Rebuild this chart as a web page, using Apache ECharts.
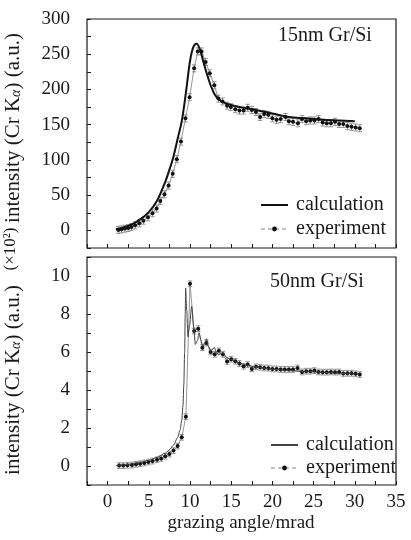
<!DOCTYPE html>
<html>
<head>
<meta charset="utf-8">
<script src="https://cdn.jsdelivr.net/npm/echarts@6/dist/echarts.min.js"></script>
<style>
html,body{margin:0;padding:0;background:#fff;}
#c{width:411px;height:540px;}
</style>
</head>
<body>
<div id="c"></div>
<script>
// ---------- data ----------
var xTicks = [0, 5, 10, 15, 20, 25, 30, 35];
var yTicksTop = [0, 50, 100, 150, 200, 250, 300];
var yTicksBottom = [0, 2, 4, 6, 8, 10];

// 15nm Gr/Si : calculation
var calcTopX = [1.0, 2.0, 3.0, 4.0, 5.0, 6.0, 7.0, 7.5, 8.0, 8.5, 9.0, 9.5, 10.0, 10.4, 10.8, 11.2, 11.6, 12.0, 12.5, 13.0, 13.5, 14.0, 15.0, 16.0, 18.0, 20.0, 22.0, 24.0, 26.0, 28.0, 30.0];
var calcTopY = [1.5, 4.5, 9, 16, 26, 42, 69, 86, 105, 130, 155, 195, 240, 260, 265, 257, 240, 224, 206, 193, 186, 182, 178, 175, 171, 166, 161, 159, 157, 156, 155];

// 15nm Gr/Si : experiment
var expTopX = [1.3, 1.7, 2.1, 2.5, 2.9, 3.35, 3.85, 4.35, 4.9, 5.45, 5.95, 6.4, 6.9, 7.4, 7.9, 8.4, 8.9, 9.45, 9.95, 10.5, 10.95, 11.4, 11.9, 12.4, 12.95, 13.45, 13.95, 14.5, 14.95, 15.5, 16.0, 16.5, 17.0, 17.5, 18.0, 18.5, 19.0, 19.5, 20.0, 20.5, 21.0, 21.6, 22.0, 22.5, 23.1, 23.6, 24.1, 24.6, 25.1, 25.6, 26.1, 26.6, 27.1, 27.6, 28.1, 28.6, 29.1, 29.6, 30.1, 30.6];
var expTopY = [0.6, 1.5, 2.5, 3.4, 4.8, 7.2, 10, 13.8, 18.6, 24.3, 31, 41.8, 51.3, 63.6, 80.2, 101, 126, 159, 189, 230, 254, 254, 239, 223, 206, 187, 183, 177, 175, 172, 170, 170, 174, 171, 168, 161, 165, 164, 159, 157, 158, 161, 155, 154, 152, 158, 155, 156, 156, 158, 153, 152, 152, 154, 151, 151, 148, 147, 146, 145];
var errTop = 5;

// 50nm Gr/Si : calculation (x10^2)
var calcBotX = [1.0, 2.0, 3.0, 4.0, 5.0, 6.0, 7.0, 7.5, 8.0, 8.5, 8.8, 9.0, 9.15, 9.25, 9.35, 9.42, 9.47, 9.6, 9.75, 9.95, 10.2, 10.45, 10.65, 10.9, 11.1, 11.35, 11.55, 11.8, 12.0, 12.25, 12.5, 12.75, 12.95, 13.2, 13.45, 13.7, 13.95, 14.5, 15.0, 16.0, 17.0, 18.0, 20.0, 22.0, 24.0, 26.0, 28.0, 30.0];
var calcBotY = [0.02, 0.06, 0.12, 0.2, 0.3, 0.45, 0.68, 0.85, 1.1, 1.5, 1.9, 2.4, 3.2, 4.3, 6.0, 8.0, 9.36, 8.2, 6.8, 7.4, 8.4, 7.3, 6.4, 6.6, 7.0, 6.6, 6.3, 6.5, 6.7, 6.3, 6.05, 6.15, 6.25, 6.0, 5.85, 5.9, 5.95, 5.7, 5.6, 5.4, 5.3, 5.2, 5.1, 5.02, 4.97, 4.93, 4.88, 4.84];

// 50nm Gr/Si : experiment (x10^2)
var expBotX = [1.4, 1.9, 2.4, 2.95, 3.45, 3.95, 4.45, 4.95, 5.45, 6.0, 6.5, 7.0, 7.5, 8.0, 8.5, 9.0, 9.5, 10.0, 10.5, 11.0, 11.5, 12.0, 12.5, 13.0, 13.5, 14.0, 14.5, 15.0, 15.5, 16.0, 16.5, 17.0, 17.5, 18.0, 18.5, 19.0, 19.5, 20.0, 20.5, 21.0, 21.5, 22.0, 22.5, 23.05, 23.6, 24.1, 24.6, 25.1, 25.6, 26.1, 26.6, 27.1, 27.6, 28.1, 28.6, 29.1, 29.6, 30.1, 30.6];
var expBotY = [0.02, 0.02, 0.04, 0.05, 0.09, 0.12, 0.16, 0.21, 0.26, 0.33, 0.40, 0.51, 0.63, 0.81, 1.05, 1.51, 2.59, 9.59, 7.1, 7.23, 6.23, 6.48, 6.0, 5.88, 6.06, 5.88, 5.5, 5.62, 5.51, 5.39, 5.25, 5.34, 5.11, 5.22, 5.2, 5.16, 5.15, 5.11, 5.11, 5.08, 5.08, 5.08, 5.08, 5.16, 4.95, 4.99, 4.99, 5.02, 4.95, 4.94, 4.94, 4.95, 4.94, 4.95, 4.87, 4.88, 4.88, 4.85, 4.81];
var errBot = 0.15;

// ---------- helpers ----------
function zip(a, b) { var r = []; for (var i = 0; i < a.length; i++) r.push([a[i], b[i]]); return r; }
function zipErr(a, b, e) { var r = []; for (var i = 0; i < a.length; i++) r.push([a[i], b[i], e]); return r; }

var FONT = 'Liberation Serif';
var INK = '#1a1a1a';

function errRender(params, api) {
  var x = api.value(0), y = api.value(1), e = api.value(2);
  var lo = api.coord([x, y - e]), hi = api.coord([x, y + e]);
  var w = 2.2;
  var st = { stroke: '#8a8a8a', lineWidth: 0.9 };
  return {
    type: 'group',
    children: [
      { type: 'line', shape: { x1: lo[0], y1: lo[1], x2: hi[0], y2: hi[1] }, style: st },
      { type: 'line', shape: { x1: lo[0] - w, y1: lo[1], x2: lo[0] + w, y2: lo[1] }, style: st },
      { type: 'line', shape: { x1: hi[0] - w, y1: hi[1], x2: hi[0] + w, y2: hi[1] }, style: st }
    ]
  };
}

function xAxisCfg(idx, showLabels) {
  return {
    type: 'value', gridIndex: idx, min: -2.5, max: 35, interval: 2.5, position: 'bottom',
    axisLine: { show: false, onZero: false },
    axisTick: { show: true, inside: true, length: 4, lineStyle: { color: INK, width: 1 } },
    splitLine: { show: false },
    axisLabel: {
      show: showLabels, margin: 8, color: INK, fontFamily: FONT, fontSize: 19,
      formatter: function (v) { return xTicks.indexOf(v) >= 0 ? String(v) : ''; }
    }
  };
}
function yAxisCfg(idx, min, max, interval, ticks) {
  return {
    type: 'value', gridIndex: idx, min: min, max: max, interval: interval, position: 'left',
    axisLine: { show: false, onZero: false },
    axisTick: { show: true, inside: true, length: 4, lineStyle: { color: INK, width: 1 } },
    splitLine: { show: false },
    axisLabel: {
      margin: 17, color: INK, fontFamily: FONT, fontSize: 19,
      formatter: function (v) { return ticks.indexOf(v) >= 0 ? String(v) : ''; }
    }
  };
}

var legendText = { calc15: 'calculation', exp15: 'experiment', calc50: 'calculation', exp50: 'experiment' };

var titleRich = {
  n: { fontFamily: FONT, fontSize: 21, fill: INK, lineHeight: 25, verticalAlign: 'bottom' },
  s: { fontFamily: FONT, fontSize: 14, fontStyle: 'italic', fill: INK, lineHeight: 14, verticalAlign: 'bottom' }
};

var chart = echarts.init(document.getElementById('c'), null, { renderer: 'canvas' });
chart.setOption({
  animation: false,
  backgroundColor: '#fff',
  grid: [
    { left: 87, top: 19, width: 309, height: 229, show: true, borderColor: INK, borderWidth: 1.2, backgroundColor: 'transparent' },
    { left: 87, top: 257, width: 309, height: 228, show: true, borderColor: INK, borderWidth: 1.2, backgroundColor: 'transparent' }
  ],
  xAxis: [xAxisCfg(0, false), xAxisCfg(1, true)],
  yAxis: [yAxisCfg(0, -25, 300, 25, yTicksTop), yAxisCfg(1, -1, 11, 1, yTicksBottom)],
  legend: [
    {
      left: 255, top: 190, orient: 'vertical', itemWidth: 27, itemHeight: 6, itemGap: 4,
      data: [
        { name: 'calc15', itemStyle: { opacity: 0 } },
        { name: 'exp15', lineStyle: { type: [4, 3], color: '#888', width: 1 } }
      ],
      formatter: function (n) { return legendText[n]; },
      textStyle: { fontFamily: FONT, fontSize: 20, color: INK, padding: [0, 0, 0, 3] },
      selectedMode: false
    },
    {
      left: 265, top: 430, orient: 'vertical', itemWidth: 27, itemHeight: 6, itemGap: 3,
      data: [
        { name: 'calc50', itemStyle: { opacity: 0 } },
        { name: 'exp50', lineStyle: { type: [4, 3], color: '#888', width: 1 } }
      ],
      formatter: function (n) { return legendText[n]; },
      textStyle: { fontFamily: FONT, fontSize: 20, color: INK, padding: [0, 0, 0, 3] },
      selectedMode: false
    }
  ],
  series: [
    {
      name: 'err15', type: 'custom', xAxisIndex: 0, yAxisIndex: 0, z: 1,
      renderItem: errRender, encode: { x: 0, y: 1 }, data: zipErr(expTopX, expTopY, errTop)
    },
    {
      name: 'exp15', type: 'line', xAxisIndex: 0, yAxisIndex: 0, z: 2,
      data: zip(expTopX, expTopY), symbol: 'circle', symbolSize: 4, showSymbol: true,
      itemStyle: { color: '#111' }, lineStyle: { color: '#888', width: 0.9 }
    },
    {
      name: 'calc15', type: 'line', xAxisIndex: 0, yAxisIndex: 0, z: 3,
      data: zip(calcTopX, calcTopY), symbol: 'none', smooth: 0.35,
      itemStyle: { color: '#111' }, lineStyle: { color: '#111', width: 2 }
    },
    {
      name: 'err50', type: 'custom', xAxisIndex: 1, yAxisIndex: 1, z: 1,
      renderItem: errRender, encode: { x: 0, y: 1 }, data: zipErr(expBotX, expBotY, errBot)
    },
    {
      name: 'exp50', type: 'line', xAxisIndex: 1, yAxisIndex: 1, z: 2,
      data: zip(expBotX, expBotY), symbol: 'circle', symbolSize: 4, showSymbol: true,
      itemStyle: { color: '#111' }, lineStyle: { color: '#888', width: 0.9 }
    },
    {
      name: 'calc50', type: 'line', xAxisIndex: 1, yAxisIndex: 1, z: 3,
      data: zip(calcBotX, calcBotY), symbol: 'none', smooth: 0.3, smoothMonotone: 'x',
      itemStyle: { color: '#444' }, lineStyle: { color: '#444', width: 1 }
    }
  ],
  graphic: [
    { type: 'text', left: 278, top: 26, style: { text: '15nm Gr/Si', font: '20px "Liberation Serif"', fill: INK } },
    { type: 'text', left: 270, top: 272, style: { text: '50nm Gr/Si', font: '20px "Liberation Serif"', fill: INK } },
    { type: 'text', x: 241, y: 523, style: { text: 'grazing angle/mrad', font: '19px "Liberation Serif"', fill: INK, align: 'center', verticalAlign: 'middle' } },
    {
      type: 'text', x: 11, y: 128, rotation: Math.PI / 2,
      style: { text: '{n|intensity (Cr K}{s|α}{n|) (a.u.)}', align: 'center', verticalAlign: 'middle', rich: titleRich }
    },
    {
      type: 'text', x: 11, y: 249, rotation: Math.PI / 2,
      style: { text: '(×10²)', font: '17px "Liberation Serif"', fill: INK, align: 'center', verticalAlign: 'middle' }
    },
    {
      type: 'text', x: 11, y: 380, rotation: Math.PI / 2,
      style: { text: '{n|intensity (Cr K}{s|α}{n|) (a.u.)}', align: 'center', verticalAlign: 'middle', rich: titleRich }
    }
  ]
});
</script>
</body>
</html>
